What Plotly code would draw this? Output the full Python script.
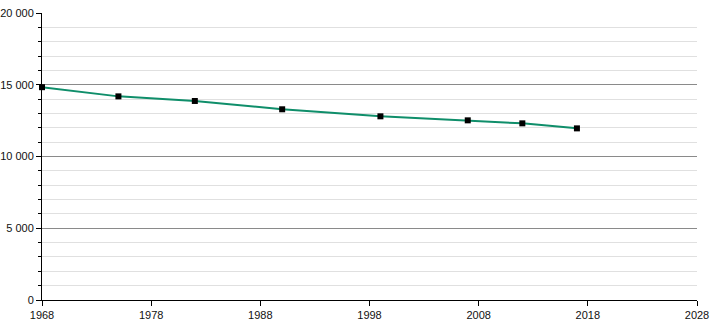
import plotly.graph_objects as go

years = [1968, 1975, 1982, 1990, 1999, 2007, 2012, 2017]
population = [14830, 14190, 13870, 13290, 12800, 12520, 12310, 11960]
x_ticks = [1968, 1978, 1988, 1998, 2008, 2018, 2028]
y_ticks = [0, 5000, 10000, 15000, 20000]

fig = go.Figure()
fig.add_trace(go.Scatter(
    x=years, y=population, mode="lines+markers",
    line=dict(color="#0f8e6a", width=2),
    marker=dict(symbol="square", size=6, color="#000000"),
    showlegend=False, hoverinfo="x+y", cliponaxis=False,
))

fig.update_layout(
    width=710, height=320,
    margin=dict(l=42, r=13, t=13, b=20),
    plot_bgcolor="white", paper_bgcolor="white",
    separators=", ",
    font=dict(family="Liberation Sans, Arial, sans-serif", size=11, color="#111"),
    xaxis=dict(
        range=[1968, 2028], tickvals=x_ticks, ticks="outside", ticklen=5,
        tickcolor="black", showline=True, linecolor="black", linewidth=1,
        showgrid=False, zeroline=False, tickformat="d", automargin=False,
    ),
    yaxis=dict(
        range=[0, 20000], tickvals=y_ticks, tickformat=",d", ticks="outside", ticklen=5,
        tickcolor="black", showline=True, linecolor="black", linewidth=1,
        showgrid=True, gridcolor="#8a8a8a", gridwidth=1, zeroline=False, automargin=False,
        minor=dict(dtick=1000, showgrid=True, gridcolor="#e0e0e0", ticks="outside",
                   ticklen=3, tickcolor="black"),
    ),
)

fig.write_html("out.html")
